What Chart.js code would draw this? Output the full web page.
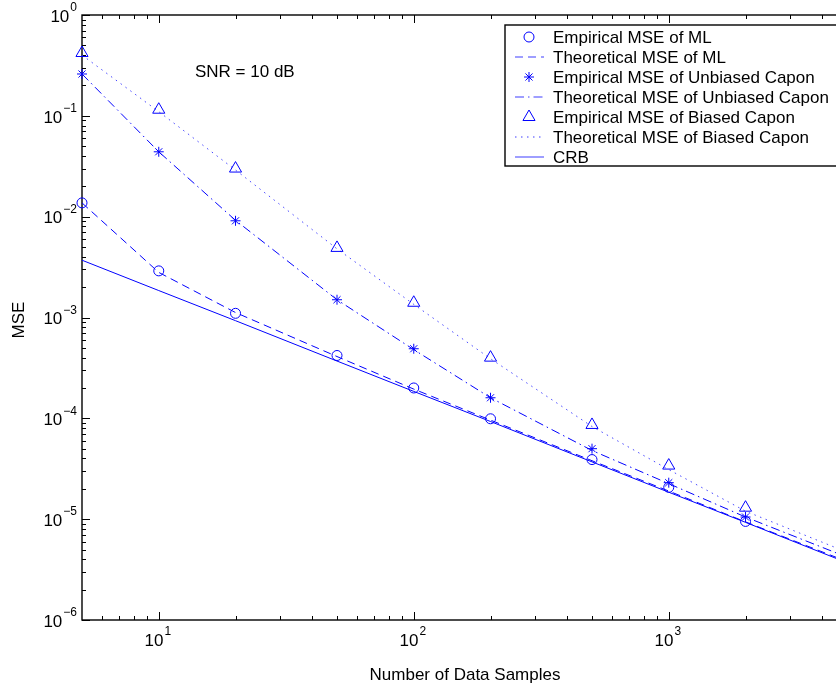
<!DOCTYPE html>
<html><head><meta charset="utf-8">
<script src="https://cdn.jsdelivr.net/npm/chart.js@4.4.0/dist/chart.umd.min.js"></script>
<style>
html,body{margin:0;padding:0;background:#fff;overflow:hidden;width:836px;height:690px}
canvas{position:absolute;left:0;top:0}
</style>
</head><body>
<canvas id="c" width="860" height="690" style="width:860px;height:690px"></canvas>
<script>
// ---- data ----
const samples  = [5, 10, 20, 50, 100, 200, 500, 1000, 2000];
const theoryN  = [5, 10, 20, 50, 100, 200, 500, 1000, 2000, 5000];
const empML    = [0.0137, 0.0029, 0.0011, 4.2e-4, 2.0e-4, 9.9e-5, 3.9e-5, 2.07e-5, 9.5e-6];
const theoML   = [0.0137, 0.0028, 0.00112, 4.1e-4, 1.95e-4, 9.6e-5, 3.8e-5, 1.9e-5, 9.4e-6, 3.8e-6];
const empUC    = [0.26, 0.044, 0.0091, 1.5e-3, 4.9e-4, 1.6e-4, 5.0e-5, 2.3e-5, 1.05e-5];
const theoUC   = [0.26, 0.044, 0.0092, 1.5e-3, 4.8e-4, 1.6e-4, 4.8e-5, 2.25e-5, 1.05e-5, 4.2e-6];
const empBC    = [0.42, 0.115, 0.030, 4.9e-3, 1.4e-3, 4.0e-4, 8.6e-5, 3.4e-5, 1.3e-5];
const theoBC   = [0.40, 0.11, 0.029, 4.8e-3, 1.35e-3, 3.9e-4, 8.3e-5, 3.1e-5, 1.2e-5, 4.7e-6];
const crb      = [3.7e-3, 1.85e-3, 9.3e-4, 3.7e-4, 1.85e-4, 9.3e-5, 3.7e-5, 1.85e-5, 9.3e-6, 3.7e-6];
const xTickExps = [1, 2, 3];
const yTickExps = [-6, -5, -4, -3, -2, -1, 0];
const labels = [
  'Empirical MSE of ML',
  'Theoretical MSE of ML',
  'Empirical MSE of Unbiased Capon',
  'Theoretical MSE of Unbiased Capon',
  'Empirical MSE of Biased Capon',
  'Theoretical MSE of Biased Capon',
  'CRB'
];
const annotation = 'SNR = 10 dB';
const xTitle = 'Number of Data Samples';
const yTitle = 'MSE';

const BLUE = '#0000ff';
const DOTBLUE = 'rgba(40,40,255,0.85)';
const FONT = '"Liberation Sans", Arial, Helvetica, sans-serif';
const pts = (xs, ys) => ys.map((v, i) => ({x: xs[i], y: v}));

function markerSet(label, xs, ys, style, r) {
  return {label, data: pts(xs, ys), showLine: false, pointStyle: style, pointRadius: r,
    pointBorderWidth: 1, borderColor: BLUE, pointBorderColor: BLUE,
    backgroundColor: 'rgba(0,0,0,0)', pointBackgroundColor: 'rgba(0,0,0,0)', clip: false,
    legendMarker: style, legendColor: BLUE};
}
function lineSet(label, xs, ys, dash, color) {
  return {label, data: pts(xs, ys), showLine: true, pointRadius: 0, borderWidth: 1,
    borderColor: color || BLUE, borderDash: dash, backgroundColor: 'rgba(0,0,0,0)', clip: false,
    legendDash: dash, legendColor: color || BLUE};
}

const datasets = [
  markerSet(labels[0], samples, empML, 'circle', 5),
  lineSet(labels[1], theoryN, theoML, [8, 5]),
  markerSet(labels[2], samples, empUC, 'star', 5),
  lineSet(labels[3], theoryN, theoUC, [9, 4, 1.5, 4]),
  markerSet(labels[4], samples, empBC, 'triangle', 7),
  lineSet(labels[5], theoryN, theoBC, [1.5, 4.5], DOTBLUE),
  lineSet(labels[6], theoryN, crb, [])
];

function drawMarker(ctx, style, x, y, r) {
  ctx.beginPath();
  if (style === 'circle') {
    ctx.arc(x, y, r, 0, Math.PI * 2);
  } else if (style === 'star') {
    const d = r * Math.SQRT1_2;
    ctx.moveTo(x - r, y); ctx.lineTo(x + r, y);
    ctx.moveTo(x, y - r); ctx.lineTo(x, y + r);
    ctx.moveTo(x - d, y - d); ctx.lineTo(x + d, y + d);
    ctx.moveTo(x - d, y + d); ctx.lineTo(x + d, y - d);
  } else if (style === 'triangle') {
    const h = r * Math.sqrt(3) / 2;
    ctx.moveTo(x, y - r);
    ctx.lineTo(x + h, y + r / 2);
    ctx.lineTo(x - h, y + r / 2);
    ctx.closePath();
  }
  ctx.stroke();
}

function pow10(ctx, e, x, y, align) {
  const base = '10', sup = (e < 0 ? '\u2212' : '') + Math.abs(e);
  ctx.font = '17px ' + FONT; const wb = ctx.measureText(base).width;
  ctx.font = '12px ' + FONT; const ws = ctx.measureText(sup).width;
  const total = wb + ws + 1;
  const x0 = align === 'right' ? x - total : x - total / 2;
  ctx.textAlign = 'left'; ctx.textBaseline = 'middle'; ctx.fillStyle = '#000';
  ctx.font = '17px ' + FONT; ctx.fillText(base, x0, y);
  ctx.font = '12px ' + FONT; ctx.fillText(sup, x0 + wb + 1, y - 9);
}

const frame = {
  id: 'frame',
  beforeDatasetsDraw(chart) {
    const {ctx, chartArea: a, scales: {x, y}} = chart;
    ctx.save();
    ctx.strokeStyle = '#000'; ctx.lineWidth = 1.4;
    ctx.strokeRect(a.left, a.top, a.right - a.left, a.bottom - a.top);
    ctx.lineWidth = 1;
    const xMajor = xTickExps.map(e => 10 ** e);
    const xMinor = [];
    for (const d of [1, 10, 100, 1000]) for (let m = 2; m <= 9; m++) {
      const v = m * d; if (v > 5 && v < 5000 && !xMajor.includes(v)) xMinor.push(v);
    }
    const yMajor = yTickExps.map(e => 10 ** e);
    const yMinor = [];
    for (let e = -6; e < 0; e++) for (let m = 2; m <= 9; m++) yMinor.push(m * 10 ** e);
    ctx.beginPath();
    const tx = (v, len) => {
      const px = Math.round(x.getPixelForValue(v)) + 0.5;
      ctx.moveTo(px, a.bottom); ctx.lineTo(px, a.bottom - len);
      ctx.moveTo(px, a.top); ctx.lineTo(px, a.top + len);
    };
    const ty = (v, len) => {
      const py = Math.round(y.getPixelForValue(v)) + 0.5;
      ctx.moveTo(a.left, py); ctx.lineTo(a.left + len, py);
      ctx.moveTo(a.right, py); ctx.lineTo(a.right - len, py);
    };
    xMajor.forEach(v => tx(v, 8)); xMinor.forEach(v => tx(v, 4));
    yMajor.forEach(v => ty(v, 8)); yMinor.forEach(v => ty(v, 4));
    ctx.stroke();
    // tick labels
    yTickExps.forEach(e => pow10(ctx, e, 77, y.getPixelForValue(10 ** e) + 2, 'right'));
    xTickExps.forEach(e => pow10(ctx, e, x.getPixelForValue(10 ** e) - 1, 641, 'center'));
    // titles
    ctx.fillStyle = '#000'; ctx.font = '17px ' + FONT;
    ctx.textAlign = 'center'; ctx.textBaseline = 'middle';
    ctx.fillText(xTitle, 465, 675);
    ctx.save(); ctx.translate(19, 320); ctx.rotate(-Math.PI / 2);
    ctx.fillText(yTitle, 0, 0); ctx.restore();
    ctx.textAlign = 'left';
    ctx.fillText(annotation, 195, 72);
    ctx.restore();
  },
  afterDraw(chart) {
    const {ctx} = chart;
    ctx.save();
    ctx.fillStyle = '#fff'; ctx.strokeStyle = '#000'; ctx.lineWidth = 1.4;
    ctx.fillRect(505, 25, 400, 141);
    ctx.strokeRect(505, 25, 400, 141);
    datasets.forEach((ds, i) => {
      const yy = 37 + 20 * i;
      ctx.strokeStyle = ds.legendColor; ctx.lineWidth = 1;
      if (ds.legendMarker) {
        ctx.setLineDash([]);
        drawMarker(ctx, ds.legendMarker, 529, yy, ds.pointRadius);
      } else {
        ctx.strokeStyle = 'rgba(40,40,255,0.9)';
        ctx.setLineDash(ds.legendDash || []);
        ctx.beginPath(); ctx.moveTo(515, yy); ctx.lineTo(544, yy); ctx.stroke();
        ctx.setLineDash([]);
      }
      ctx.fillStyle = '#000'; ctx.font = '17px ' + FONT;
      ctx.textAlign = 'left'; ctx.textBaseline = 'middle';
      ctx.fillText(ds.label, 553, yy + 1);
    });
    ctx.restore();
  }
};

new Chart(document.getElementById('c'), {
  type: 'scatter',
  data: {datasets},
  options: {
    responsive: false, animation: false,
    layout: {padding: {left: 82, top: 15, right: 13, bottom: 70}},
    scales: {
      x: {type: 'logarithmic', min: 5, max: 5000, display: false},
      y: {type: 'logarithmic', min: 1e-6, max: 1, display: false}
    },
    plugins: {legend: {display: false}, tooltip: {enabled: false}}
  },
  plugins: [frame]
});
</script>
</body></html>
